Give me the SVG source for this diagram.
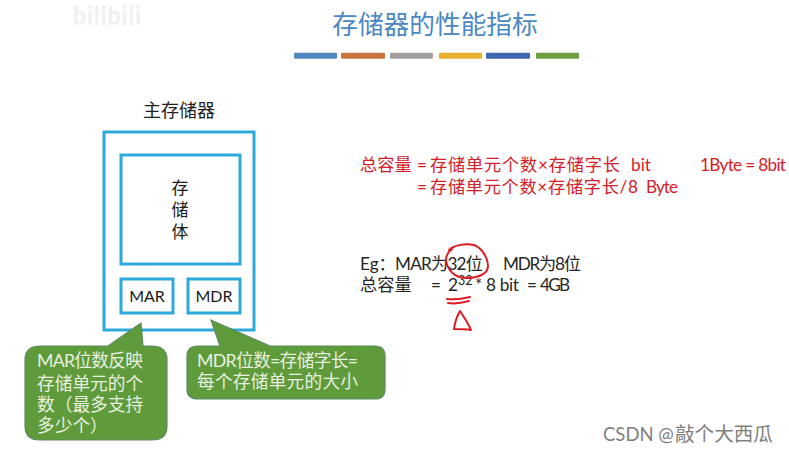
<svg xmlns="http://www.w3.org/2000/svg" width="789" height="453" viewBox="0 0 789 453">
<defs><style>
text{font-family:"Lato","Noto Sans CJK SC",sans-serif}
.cjk{font-family:"Noto Sans CJK SC","Noto Sans",sans-serif}
.box{fill:#fff;stroke:#2ea9dc;stroke-width:3}
.lab{font-size:16px;fill:#1a1a1a}
.call{fill:#5f9b3a;stroke:#5d8a60;stroke-width:1.2}
.wt{font-size:17.7px;fill:#e8f0e0}
.red{font-size:17.2px;fill:#d4202a}
.blk{font-size:17.2px;fill:#262626}
.ink{fill:none;stroke:#dc1c24;stroke-width:2;stroke-linecap:round;stroke-linejoin:round}
</style></defs>
<rect width="789" height="453" fill="#fff"/>
<text transform="translate(73,25) scale(1,1.15)" font-size="23" font-weight="700" fill="#f0f0f0" textLength="68">bilibili</text>
<text x="435" y="34" text-anchor="middle" font-size="25.700" fill="#4a88c2" class="cjk">存储器的性能指标</text>
<g id="title-bars">
<rect x="294" y="52.700" width="43" height="6" rx="1" fill="#5288bd"/>
<rect x="341" y="52.700" width="44" height="6" rx="1" fill="#c8743c"/>
<rect x="390" y="52.700" width="43" height="6" rx="1" fill="#a0a0a0"/>
<rect x="439" y="52.700" width="43" height="6" rx="1" fill="#e6b02e"/>
<rect x="486" y="52.700" width="44" height="6" rx="1" fill="#3f67ad"/>
<rect x="536" y="52.700" width="43" height="6" rx="1" fill="#6ea043"/>
</g>
<g id="main-memory">
<text x="179" y="117" text-anchor="middle" font-size="18" fill="#222" class="cjk">主存储器</text>
<rect class="box" x="104" y="132" width="150" height="198"/>
</g>
<g id="storage-body">
<rect class="box" x="121" y="155" width="119" height="109"/>
<text class="lab cjk" style="font-size:17px" text-anchor="middle" y="194"><tspan x="180">存</tspan><tspan x="180" dy="22">储</tspan><tspan x="180" dy="22">体</tspan></text>
</g>
<g id="mar"><rect class="box" x="121" y="279" width="52" height="34"/><text class="lab" x="147" y="302" text-anchor="middle">MAR</text></g>
<g id="mdr"><rect class="box" x="188" y="279" width="52" height="34"/><text class="lab" x="214" y="302" text-anchor="middle">MDR</text></g>
<g id="callout-mar">
<path class="call" d="M40 346H108L141 323L143 346H152Q167 346 167 360V426Q167 440 152 440H40Q25 440 25 426V360Q25 346 40 346Z"/>
<text class="wt" x="37" y="367" textLength="106">MAR位数反映</text>
<text class="wt" x="37" y="390">存储单元的个</text>
<text class="wt" x="37" y="411">数（最多支持</text>
<text class="wt" x="37" y="432">多少个）</text>
</g>
<g id="callout-mdr">
<path class="call" d="M198 346H220L211 320L270 346H375Q385 346 385 356V389Q385 399 375 399H198Q187 399 187 389V356Q187 346 198 346Z"/>
<text class="wt" x="197" y="367" textLength="161">MDR位数=存储字长=</text>
<text class="wt" x="197" y="388" textLength="161">每个存储单元的大小</text>
</g>
<g id="formula">
<text class="red" x="360" y="171">总容量</text>
<text class="red" x="417" y="171">=</text>
<text class="red" x="430" y="171" textLength="190">存储单元个数×存储字长</text>
<text class="red" x="631" y="171">bit</text>
<text class="red" x="700" y="171" textLength="86">1Byte = 8bit</text>
<text class="red" x="417" y="193">=</text>
<text class="red" x="430" y="193" textLength="208">存储单元个数×存储字长/8</text>
<text class="red" x="646" y="193" textLength="32">Byte</text>
</g>
<g id="example">
<text class="blk" x="360" y="270">Eg：</text>
<text class="blk" x="395" y="270" textLength="88">MAR为32位</text>
<text class="blk" x="503" y="270" textLength="78">MDR为8位</text>
<text class="blk" x="360" y="291">总容量</text>
<text class="blk" x="431" y="291">=</text>
<text class="blk" x="448" y="291">2</text>
<text x="458" y="285" font-size="12.500" fill="#262626">32</text>
<text class="blk" x="475" y="291" textLength="44">* 8 bit</text>
<text class="blk" x="527" y="291">=</text>
<text class="blk" x="540" y="291" textLength="30">4GB</text>
</g>
<g id="connectors">
<path class="ink" d="M449 250C454 245 466 243 474 245C482 248 488 258 488 266C488 274 478 278 466 278C455 278 447 270 446 260C446 255 448 252 452 249"/>
<path class="ink" d="M447 299C455 300 462 299 470 297M448 303C455 304 462 303 469 301"/>
<path class="ink" d="M454 329C455 322 457 316 460 311C464 317 468 323 471 330C465 329 459 329 454 329Z"/>
</g>
<text x="603" y="441" font-size="18.500" fill="#808080" font-family="'Liberation Sans','Noto Sans CJK SC',sans-serif">CSDN @<tspan x="675" font-size="19.600">敲个大西瓜</tspan></text>
</svg>
